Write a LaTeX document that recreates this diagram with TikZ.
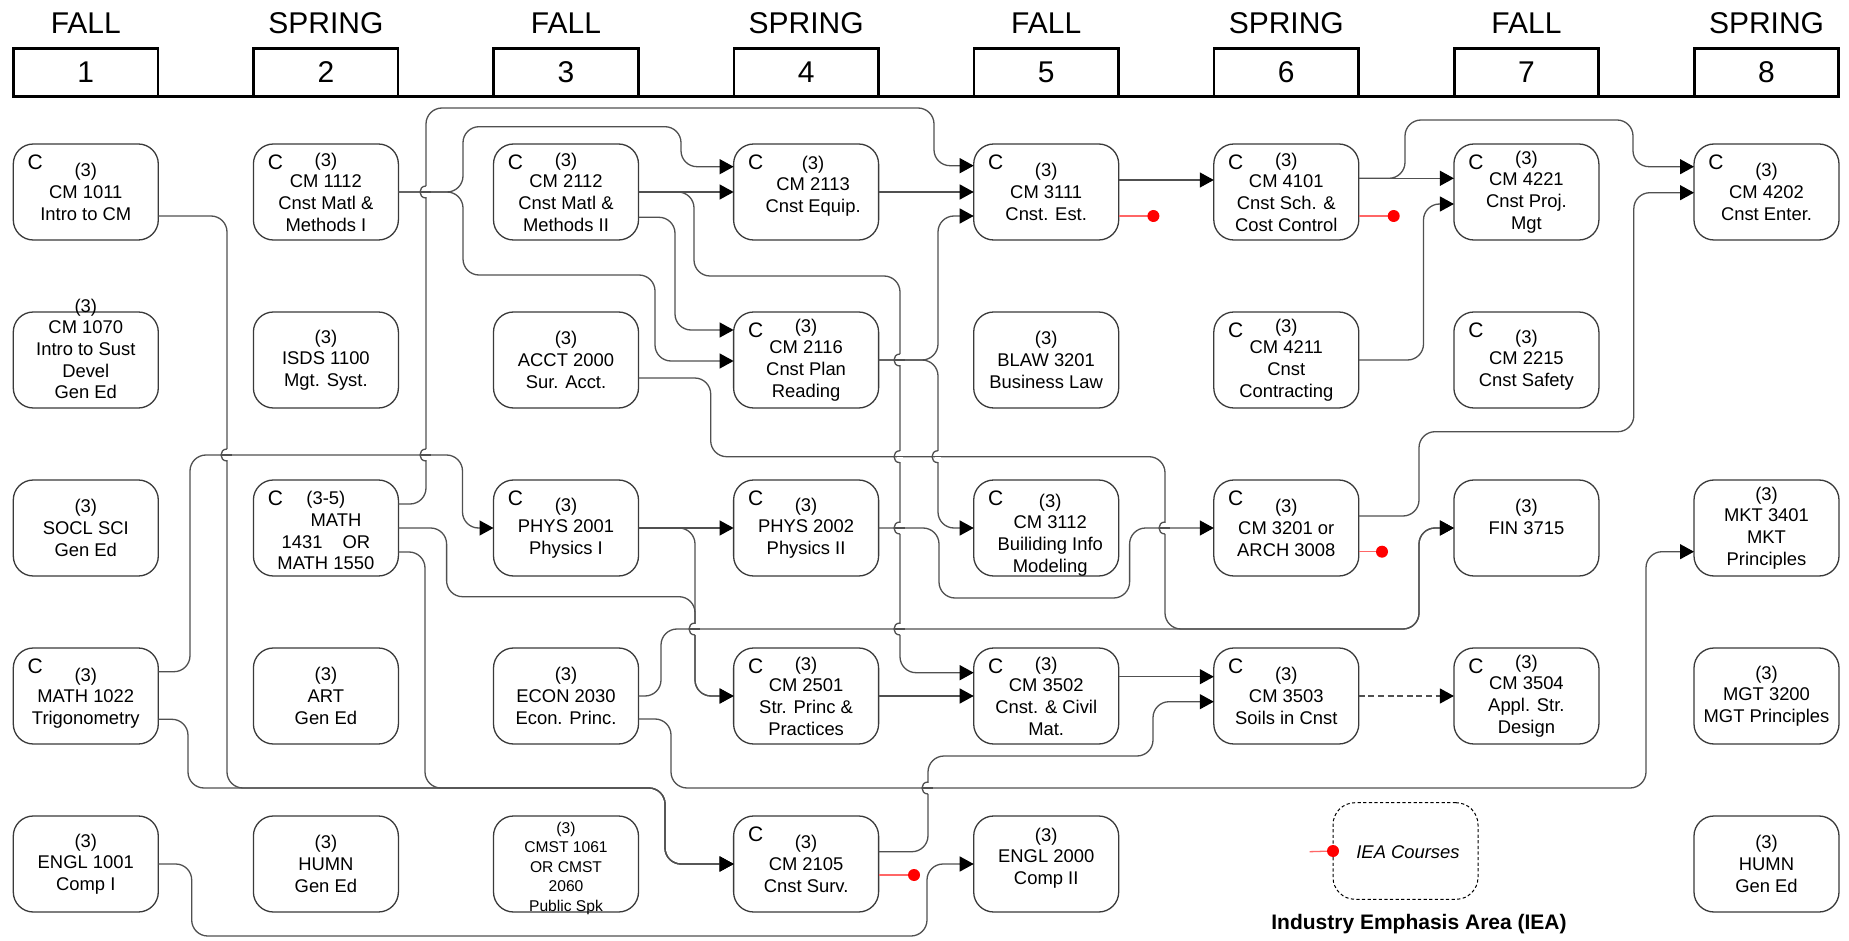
\documentclass[tikz,border=0pt]{standalone}
\usepackage{fontspec}
\setmainfont{Liberation Sans}
\usetikzlibrary{arrows.meta,calc}
\definecolor{boxc}{HTML}{3A3A3A}
\definecolor{linec}{HTML}{505050}
\definecolor{iealine}{HTML}{FF6666}
\definecolor{ieadot}{HTML}{FF0000}
\newcommand\myNodeFont{\fontsize{9.2}{10.85}\selectfont}
\newcommand\mySmallFont{\fontsize{7.8}{9.75}\selectfont}
\newcommand\myCFont{\fontsize{10.5}{12}\selectfont}
\newcommand\myHeadFont{\fontsize{15}{18}\selectfont}
\newcommand\myTitleFont{\fontsize{10.5}{12}\selectfont\bfseries}
\tikzset{
 course/.style={draw=boxc, line width=0.65pt, rounded corners=10pt, minimum width=72.5pt, minimum height=48pt, inner sep=0pt, outer sep=0pt},
 ctext/.style={align=center, inner sep=0pt, font=\myNodeFont},
 cmark/.style={inner sep=0pt, font=\myCFont},
 semhead/.style={draw=black, line width=1.35pt, minimum width=72.2pt, minimum height=24.2pt, inner sep=0pt, outer sep=0pt, font=\myHeadFont},
 semlabel/.style={inner sep=0pt, font=\myHeadFont},
 conn/.style={draw=linec, line width=0.65pt, rounded corners=8pt},
 arr/.style={conn, -{Triangle[length=7pt,width=7.5pt,color=black,fill=black]}},
 iea/.style={draw=iealine, line width=0.65pt},
 legendbox/.style={draw=black, line width=0.5pt, dash pattern=on 1.6pt off 1.2pt, rounded corners=11pt, minimum width=72.5pt, minimum height=48.3pt, inner sep=0pt, outer sep=0pt},
}
\newcommand\mkcourse[5][]{%
 \node[course] (#2) at (#3) {};
 \node[ctext,#1] (#2t) at ($(#3)+(#4)$) {#5};
}
\newcommand\mkC[1]{\node[cmark] (#1c) at ($(#1.north west)+(22,18)$) {C};}
\newcommand\mkhop[2]{%
 \draw[white, line width=2.6pt] (#1,#2-5.5) -- (#1,#2+5.5);
 \draw[draw=linec, line width=0.65pt] (#1-5,#2) -- (#1+5,#2);
 \draw[draw=linec, line width=0.65pt] (#1,#2-6) .. controls (#1-8,#2-6) and (#1-8,#2+6) .. (#1,#2+6);
}
\begin{document}
\begin{tikzpicture}[x=0.5pt,y=-0.5pt]
\useasboundingbox (0,0) rectangle (1849,941);
\fill[white] (0,0) rectangle (1849,941);

% semester headers
\foreach \i/\lab in {1/FALL,2/SPRING,3/FALL,4/SPRING,5/FALL,6/SPRING,7/FALL,8/SPRING}{
 \node[semhead] (s\i) at ({85.8+240.1*(\i-1)},72.5) {\i};
 \node[semlabel] (h\i) at ({85.8+240.1*(\i-1)},23.3) {\lab};
}
\draw[line width=1.35pt] (s1.south west) -- (s8.south east);

% row 1
\mkcourse{n11}{85.8,192}{0,0}{(3)\\CM 1011\\Intro to CM}\mkC{n11}
\mkcourse{n12}{325.9,192}{0,0}{(3)\\CM 1112\\Cnst Matl \&\\Methods I}\mkC{n12}
\mkcourse{n13}{566.0,192}{0,0}{(3)\\CM 2112\\Cnst Matl \&\\Methods II}\mkC{n13}
\mkcourse{n14}{806.1,192}{7,-6}{(3)\\CM 2113\\Cnst Equip.}\mkC{n14}
\mkcourse{n15}{1046.2,192}{0,0}{(3)\\CM 3111\\Cnst. Est.}\mkC{n15}
\mkcourse{n16}{1286.3,192}{0,0}{(3)\\CM 4101\\Cnst Sch. \&\\Cost Control}\mkC{n16}
\mkcourse{n17}{1526.4,192}{0,0}{(3)\\CM 4221\\Cnst Proj.\\Mgt}\mkC{n17}
\mkcourse{n18}{1766.5,192}{0,0}{(3)\\CM 4202\\Cnst Enter.}\mkC{n18}
% row 2
\mkcourse{n21}{85.8,360}{0,-11}{(3)\\CM 1070\\Intro to Sust\\Devel\\Gen Ed}
\mkcourse{n22}{325.9,360}{0,0}{(3)\\ISDS 1100\\Mgt. Syst.}
\mkcourse{n23}{566.0,360}{0,0}{(3)\\ACCT 2000\\Sur. Acct.}
\mkcourse{n24}{806.1,360}{0,0}{(3)\\CM 2116\\Cnst Plan\\Reading}\mkC{n24}
\mkcourse{n25}{1046.2,360}{0,0}{(3)\\BLAW 3201\\Business Law}
\mkcourse{n26}{1286.3,360}{0,0}{(3)\\CM 4211\\Cnst\\Contracting}\mkC{n26}
\mkcourse{n27}{1526.4,360}{0,0}{(3)\\CM 2215\\Cnst Safety}\mkC{n27}
% row 3
\mkcourse{n31}{85.8,528}{0,0}{(3)\\SOCL SCI\\Gen Ed}
\mkcourse{n32}{325.9,528}{0,2.6}{(3-5)\\\hspace*{10pt}MATH\\1431\hspace{10pt}OR\\MATH 1550}\mkC{n32}
\mkcourse{n33}{566.0,528}{0,0}{(3)\\PHYS 2001\\Physics I}\mkC{n33}
\mkcourse{n34}{806.1,528}{0,0}{(3)\\PHYS 2002\\Physics II}\mkC{n34}
\mkcourse{n35}{1046.2,528}{4,7}{(3)\\CM 3112\\Builiding Info\\Modeling}\mkC{n35}
\mkcourse{n36}{1286.3,528}{0,0}{(3)\\CM 3201 or\\ARCH 3008}\mkC{n36}
\mkcourse{n37}{1526.4,528}{0,-11}{(3)\\FIN 3715}
\mkcourse{n38}{1766.5,528}{0,0}{(3)\\MKT 3401\\MKT\\Principles}
% row 4
\mkcourse{n41}{85.8,696}{0,2}{(3)\\MATH 1022\\Trigonometry}\mkC{n41}
\mkcourse{n42}{325.9,696}{0,0}{(3)\\ART\\Gen Ed}
\mkcourse{n43}{566.0,696}{0,0}{(3)\\ECON 2030\\Econ. Princ.}
\mkcourse{n44}{806.1,696}{0,0}{(3)\\CM 2501\\Str. Princ \&\\Practices}\mkC{n44}
\mkcourse{n45}{1046.2,696}{0,0}{(3)\\CM 3502\\Cnst. \& Civil\\Mat.}\mkC{n45}
\mkcourse{n46}{1286.3,696}{0,0}{(3)\\CM 3503\\Soils in Cnst}\mkC{n46}
\mkcourse{n47}{1526.4,696}{0,0}{(3)\\CM 3504\\Appl. Str.\\Design}\mkC{n47}
\mkcourse{n48}{1766.5,696}{0,0}{(3)\\MGT 3200\\MGT Principles}
% row 5
\mkcourse{n51}{85.8,864}{0,0}{(3)\\ENGL 1001\\Comp I}
\mkcourse{n52}{325.9,864}{0,0}{(3)\\HUMN\\Gen Ed}
\mkcourse[font=\mySmallFont]{n53}{566.0,864}{0,4}{(3)\\CMST 1061\\OR CMST\\2060\\Public Spk}
\mkcourse{n54}{806.1,864}{0,0}{(3)\\CM 2105\\Cnst Surv.}\mkC{n54}
\mkcourse{n55}{1046.2,864}{0,-6}{(3)\\ENGL 2000\\Comp II}
\mkcourse{n58}{1766.5,864}{0,0}{(3)\\HUMN\\Gen Ed}

% connectors
\draw[arr] ($(n11.east)+(0,24)$) -- (227,216) -- (227,788) -- (665,788) -- (665,864) -- (n54.west);
\draw[arr] ($(n41.east)+(0,23.3)$) -- (188,719.3) -- (188,788) -- (665,788) -- (665,864) -- (n54.west);
\draw[arr] ($(n32.east)+(0,24)$) -- (425,552) -- (425,788) -- (665,788) -- (665,864) -- (n54.west);
\draw[arr] ($(n41.east)+(0,-24.3)$) -- (190,671.7) -- (190,455) -- (462.5,455) -- (462.5,528) -- (n33.west);
\draw[arr] ($(n32.east)+(0,-24)$) -- (426,504) -- (426,108) -- (934,108) -- (934,165.7) -- ($(n15.west)+(0,-26.3)$);
\draw[arr] (n32.east) -- (446.6,528) -- (446.6,596.7) -- (695,596.7) -- (695,696) -- (n44.west);
\draw[arr] (n33.east) -- (695,528) -- (695,696) -- (n44.west);
\draw[arr] (n33.east) -- (n34.west);
\draw[arr] (n12.east) -- (463,192) -- (463,126.7) -- (681,126.7) -- (681,166.7) -- ($(n14.west)+(0,-25.3)$);
\draw[arr] (n12.east) -- (463,192) -- (463,275) -- (655,275) -- (655,361) -- ($(n24.west)+(0,1)$);
\draw[arr] (n13.east) -- (n14.west);
\draw[arr] (n13.east) -- (694,192) -- (694,276) -- (900,276) -- (900,672.7) -- ($(n45.west)+(0,-23.3)$);
\draw[arr] ($(n13.east)+(0,25.3)$) -- (675,217.3) -- (675,330) -- ($(n24.west)+(0,-30)$);
\draw[arr] (n14.east) -- (n15.west);
\draw[arr] (n24.east) -- (938,360) -- (938,216) -- ($(n15.west)+(0,24)$);
\draw[arr] (n24.east) -- (938,360) -- (938,528) -- (n35.west);
\draw[arr] ($(n15.east)+(0,-12)$) -- ($(n16.west)+(0,-12)$);
\draw[arr] ($(n16.east)+(0,-13.7)$) -- ($(n17.west)+(0,-13.7)$);
\draw[arr] ($(n16.east)+(0,-13.7)$) -- (1405,178.3) -- (1405,120) -- (1633,120) -- (1633,166.7) -- ($(n18.west)+(0,-25.3)$);
\draw[arr] (n26.east) -- (1423.5,360) -- (1423.5,204) -- ($(n17.west)+(0,12)$);
\draw[arr] ($(n36.east)+(0,-12)$) -- (1419,516) -- (1419,431.7) -- (1633.8,431.7) -- (1633.8,192.7) -- ($(n18.west)+(0,0.7)$);
\draw[arr] (n34.east) -- (939,528) -- (939,598) -- (1129.6,598) -- (1129.6,528) -- (n36.west);
\draw[arr] ($(n23.east)+(0,18)$) -- (710.7,378) -- (710.7,456.7) -- (1165,456.7) -- (1165,629) -- (1419,629) -- (1419,528) -- (n37.west);
\draw[arr] (n43.east) -- (661,696) -- (661,629) -- (1419,629) -- (1419,528) -- (n37.west);
\draw[arr] ($(n43.east)+(0,23)$) -- (671,719) -- (671,788) -- (1646,788) -- (1646,551.7) -- ($(n38.west)+(0,23.7)$);
\draw[arr] ($(n54.east)+(0,-12.3)$) -- (928,851.7) -- (928,756) -- (1153,756) -- (1153,701.7) -- ($(n46.west)+(0,5.7)$);
\draw[arr] (n51.east) -- (191.7,864) -- (191.7,936) -- (927,936) -- (927,864) -- (n55.west);
\draw[arr] (n44.east) -- (n45.west);
\draw[arr] ($(n45.east)+(0,-19.3)$) -- ($(n46.west)+(0,-19.3)$);
\draw[arr, dash pattern=on 3pt off 1.8pt] (n46.east) -- (n47.west);

% line jumps
\mkhop{426}{192}
\mkhop{426}{455}
\mkhop{227}{455}
\mkhop{900}{360}
\mkhop{900}{456.7}
\mkhop{900}{528}
\mkhop{900}{629}
\mkhop{938}{456.7}
\mkhop{695}{629}
\mkhop{1165}{528}
\mkhop{928}{788}

% IEA markers
\draw[iea] ($(n15.east)+(0,24)$) -- ++(34.7,0) coordinate (r15);
\fill[ieadot] (r15) circle (3pt);
\draw[iea] ($(n16.east)+(0,24)$) -- ++(34.9,0) coordinate (r16);
\fill[ieadot] (r16) circle (3pt);
\draw[iea] ($(n36.east)+(0,23.7)$) -- ++(23.2,0) coordinate (r36);
\fill[ieadot] (r36) circle (3pt);
\draw[iea] ($(n54.east)+(0,11)$) -- ++(35.4,0) coordinate (r54);
\fill[ieadot] (r54) circle (3pt);

% legend
\node[legendbox] (leg) at (1405.5,851) {};
\node[inner sep=0pt, font=\myNodeFont\itshape] (legt) at (1408,851.7) {IEA Courses};
\coordinate (legl) at (1309.7,851.7);
\draw[iea] (legl) -- (leg.west);
\fill[ieadot] (leg.west) circle (3pt);
\node[inner sep=0pt, font=\myTitleFont] (ttl) at (1419,924.5) {Industry Emphasis Area (IEA)};
\end{tikzpicture}
\end{document}
